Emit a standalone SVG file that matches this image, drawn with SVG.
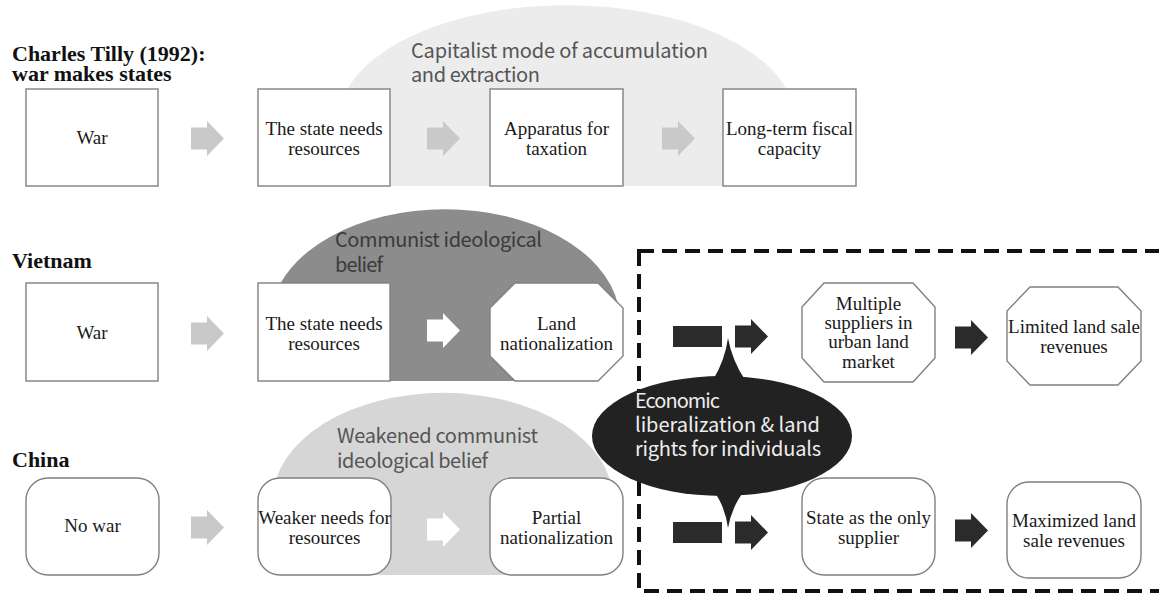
<svg xmlns="http://www.w3.org/2000/svg" width="1159" height="596" viewBox="0 0 1159 596">
<style>
.box{fill:#fff;stroke:#808080;stroke-width:1.4}
.nt{font-family:"Liberation Serif","Times New Roman",serif;font-size:19px;fill:#1a1a1a;text-anchor:middle}
.rl{font-family:"Liberation Serif","Times New Roman",serif;font-size:22px;font-weight:bold;fill:#111}
.lb{font-family:"Noto Sans CJK KR","Noto Sans",sans-serif;font-size:20px}
.ga{fill:#c9c9c9}
.wa{fill:#fff}
.da{fill:#2b2b2b}
</style>
<defs>
<path id="arr" d="M0 6.5 H16 V0 L33 17.5 L16 35 V28.5 H0 Z"/>
</defs>
<rect width="1159" height="596" fill="#fff"/>
<g id="backgrounds">
<path d="M380 186 A228 115 0 1 1 754 186 Z" fill="#ececec"/>
<path d="M297 381 A175 112 0 1 1 593 381 Z" fill="#8c8c8c"/>
<path d="M322 575 A170 107 0 1 1 564 575 Z" fill="#d6d6d6"/>
<text class="lb" x="411" y="58" fill="#555" textLength="297" lengthAdjust="spacing">Capitalist mode of accumulation</text>
<text class="lb" x="411" y="82" fill="#555" textLength="129" lengthAdjust="spacing">and extraction</text>
<text class="lb" x="335" y="247" fill="#3a3a3a" textLength="207" lengthAdjust="spacing">Communist ideological</text>
<text class="lb" x="335" y="272" fill="#3a3a3a" textLength="48" lengthAdjust="spacing">belief</text>
<text class="lb" x="337" y="443" fill="#555" textLength="201" lengthAdjust="spacing">Weakened communist</text>
<text class="lb" x="337" y="468" fill="#555" textLength="151" lengthAdjust="spacing">ideological belief</text>
</g>
<g id="row-labels">
<text class="rl" x="12" y="61">Charles Tilly (1992):</text>
<text class="rl" x="12" y="81">war makes states</text>
<text class="rl" x="12" y="268">Vietnam</text>
<text class="rl" x="12" y="467">China</text>
</g>
<g id="dashed-frame">
<rect x="639" y="251" width="530" height="340" fill="none" stroke="#111" stroke-width="4" stroke-dasharray="15 8"/>
</g>
<g id="connectors">
<use href="#arr" class="ga" transform="translate(191,121)"/>
<use href="#arr" class="ga" transform="translate(427,121)"/>
<use href="#arr" class="ga" transform="translate(662,121)"/>
<use href="#arr" class="ga" transform="translate(191,316)"/>
<use href="#arr" class="wa" transform="translate(427,313)"/>
<rect x="673" y="326" width="49" height="21" class="da"/>
<use href="#arr" class="da" transform="translate(735,319)"/>
<use href="#arr" class="da" transform="translate(955,320)"/>
<use href="#arr" class="ga" transform="translate(191,510)"/>
<use href="#arr" class="wa" transform="translate(427,512)"/>
<rect x="673" y="522" width="49" height="21" class="da"/>
<use href="#arr" class="da" transform="translate(735,515)"/>
<use href="#arr" class="da" transform="translate(955,513)"/>
</g>
<g id="bubble">
<path d="M713 380 Q725 360 728 338 Q732 360 745 380 Z" fill="#222"/>
<path d="M713 490 Q725 506 728 528 Q732 506 745 490 Z" fill="#222"/>
<ellipse cx="722" cy="436" rx="130" ry="60" fill="#222"/>
<text class="lb" x="635" y="408" fill="#eee" textLength="85" lengthAdjust="spacing">Economic</text>
<text class="lb" x="635" y="432" fill="#eee" textLength="185" lengthAdjust="spacing">liberalization &amp; land</text>
<text class="lb" x="635" y="456" fill="#eee" textLength="186" lengthAdjust="spacing">rights for individuals</text>
</g>
<g id="n-tilly-war"><rect class="box" x="26" y="89" width="132" height="97"/><text class="nt" x="92" y="144">War</text></g>
<g id="n-tilly-needs"><rect class="box" x="258" y="89" width="132" height="97"/><text class="nt" x="324" y="135">The state needs</text><text class="nt" x="324" y="155">resources</text></g>
<g id="n-tilly-apparatus"><rect class="box" x="490" y="89" width="133" height="97"/><text class="nt" x="556.5" y="135">Apparatus for</text><text class="nt" x="556.5" y="155">taxation</text></g>
<g id="n-tilly-fiscal"><rect class="box" x="723" y="89" width="133" height="97"/><text class="nt" x="789.5" y="135">Long-term fiscal</text><text class="nt" x="789.5" y="155">capacity</text></g>
<g id="n-vn-war"><rect class="box" x="26" y="283" width="132" height="98"/><text class="nt" x="92" y="339">War</text></g>
<g id="n-vn-needs"><rect class="box" x="258" y="283" width="132" height="98"/><text class="nt" x="324" y="330">The state needs</text><text class="nt" x="324" y="350">resources</text></g>
<g id="n-vn-land"><path class="box" d="M515 283 H598 L623 308 V356 L598 381 H515 L490 356 V308 Z"/><text class="nt" x="556.5" y="330">Land</text><text class="nt" x="556.5" y="350">nationalization</text></g>
<g id="n-vn-multiple"><path class="box" d="M824 283 H913 L935 307 V358 L913 382 H824 L802 358 V307 Z"/><text class="nt" x="868.5" y="310">Multiple</text><text class="nt" x="868.5" y="329">suppliers in</text><text class="nt" x="868.5" y="348">urban land</text><text class="nt" x="868.5" y="368">market</text></g>
<g id="n-vn-limited"><path class="box" d="M1030 287 H1118 L1141 311 V361 L1118 385 H1030 L1007 361 V311 Z"/><text class="nt" x="1074" y="333">Limited land sale</text><text class="nt" x="1074" y="353">revenues</text></g>
<g id="n-cn-nowar"><rect class="box" x="26" y="478" width="133" height="97" rx="22"/><text class="nt" x="92.5" y="532">No war</text></g>
<g id="n-cn-weaker"><rect class="box" x="258" y="478" width="133" height="97" rx="22"/><text class="nt" x="324.5" y="524">Weaker needs for</text><text class="nt" x="324.5" y="544">resources</text></g>
<g id="n-cn-partial"><rect class="box" x="490" y="478" width="133" height="97" rx="22"/><text class="nt" x="556.5" y="524">Partial</text><text class="nt" x="556.5" y="544">nationalization</text></g>
<g id="n-cn-state"><rect class="box" x="802" y="478" width="133" height="97" rx="22"/><text class="nt" x="868.5" y="524">State as the only</text><text class="nt" x="868.5" y="544">supplier</text></g>
<g id="n-cn-max"><rect class="box" x="1007" y="482" width="134" height="96" rx="22"/><text class="nt" x="1074" y="527">Maximized land</text><text class="nt" x="1074" y="547">sale revenues</text></g>
</svg>
